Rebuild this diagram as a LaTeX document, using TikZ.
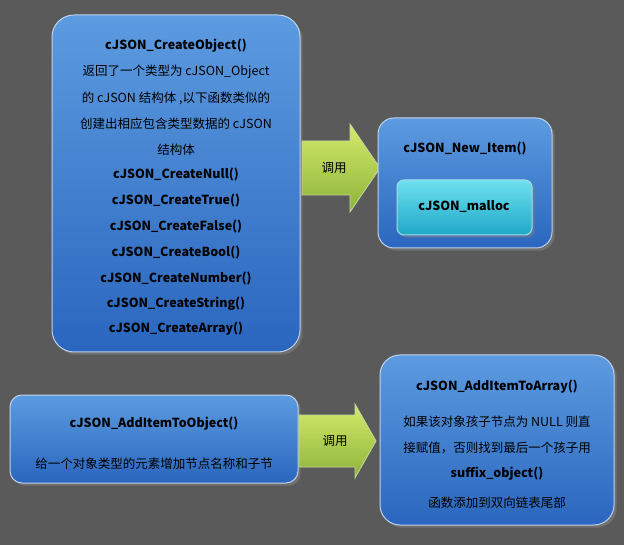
\documentclass[tikz,border=0pt]{standalone}
\usepackage{fontspec}
\setmainfont{Noto Sans CJK SC}
\usetikzlibrary{shadows}
\definecolor{bg}{HTML}{5A5A5A}
\definecolor{bluetop}{HTML}{5C9BE0}
\definecolor{bluebot}{HTML}{2A66BE}
\definecolor{cyantop}{HTML}{6EE0F0}
\definecolor{cyanbot}{HTML}{1FA8C8}
\definecolor{grtop}{HTML}{D4EA6A}
\definecolor{grbot}{HTML}{8CB43A}
\begin{document}
\begin{tikzpicture}[x=1pt,y=-1pt,
  bbox/.style={draw=white!70!bluebot,line width=1pt,rounded corners=22pt,top color=bluetop,bottom color=bluebot,drop shadow={opacity=0.6}},
  cbox/.style={draw=white!60!cyanbot,line width=1pt,rounded corners=7pt,top color=cyantop,bottom color=cyanbot,drop shadow={opacity=0.5}},
  arr/.style={draw=white!50!grbot,line width=0.8pt,top color=grtop,bottom color=grbot},
  txt/.style={font=\fontsize{12.5pt}{14pt}\selectfont,text=black},
  btxt/.style={txt,font=\fontsize{12.5pt}{14pt}\selectfont\bfseries}]
\fill[bg] (0,0) rectangle (624,545);
\useasboundingbox (0,0) rectangle (624,545);
% big box
\path[bbox] (52,15) rectangle (300,352);
\node[btxt] (t1) at (176,46) {cJSON\_CreateObject()};
\node[txt] (t2) at (176,72) {返回了一个类型为 cJSON\_Object};
\node[txt] (t3) at (176,98) {的 cJSON 结构体 ,以下函数类似的};
\node[txt] (t4) at (176,124) {创建出相应包含类型数据的 cJSON};
\node[txt] (t5) at (176,150) {结构体};
\node[btxt] (t6) at (176,175) {cJSON\_CreateNull()};
\node[btxt] (t7) at (176,201) {cJSON\_CreateTrue()};
\node[btxt] (t8) at (176,227) {cJSON\_CreateFalse()};
\node[btxt] (t9) at (176,253) {cJSON\_CreateBool()};
\node[btxt] (t10) at (176,279) {cJSON\_CreateNumber()};
\node[btxt] (t11) at (176,304) {cJSON\_CreateString()};
\node[btxt] (t12) at (176,329) {cJSON\_CreateArray()};
% arrow 1
\path[arr] (302,141) -- (350,141) -- (350,124) -- (380,168) -- (350,212) -- (350,195) -- (302,195) -- cycle;
\node[txt] (a1) at (334,168) {调用};
% box 2
\path[bbox,rounded corners=16pt] (378,118) rectangle (552,248);
\node[btxt] (n1) at (465,149) {cJSON\_New\_Item()};
\path[cbox] (397,180) rectangle (532,235);
\node[btxt] (m1) at (464,207) {cJSON\_malloc};
% box 3
\path[bbox,rounded corners=12pt] (10,395) rectangle (298,483);
\node[btxt] (o1) at (154,424) {cJSON\_AddItemToObject()};
\node[txt] (o2) at (154,464) {给一个对象类型的元素增加节点名称和子节};
% arrow 2
\path[arr] (299,415) -- (355,415) -- (355,404) -- (376,441) -- (355,478) -- (355,467) -- (299,467) -- cycle;
\node[txt] (a2) at (335,441) {调用};
% box 4
\path[bbox,rounded corners=20pt] (380,355) rectangle (614,525);
\node[btxt] (r1) at (497,387) {cJSON\_AddItemToArray()};
\node[txt] (r2) at (497,422) {如果该对象孩子节点为 NULL 则直};
\node[txt] (r3) at (497,448) {接赋值，否则找到最后一个孩子用};
\node[btxt] (r4) at (497,474) {suffix\_object()};
\node[txt] (r5) at (497,503) {函数添加到双向链表尾部};
\end{tikzpicture}
\end{document}
